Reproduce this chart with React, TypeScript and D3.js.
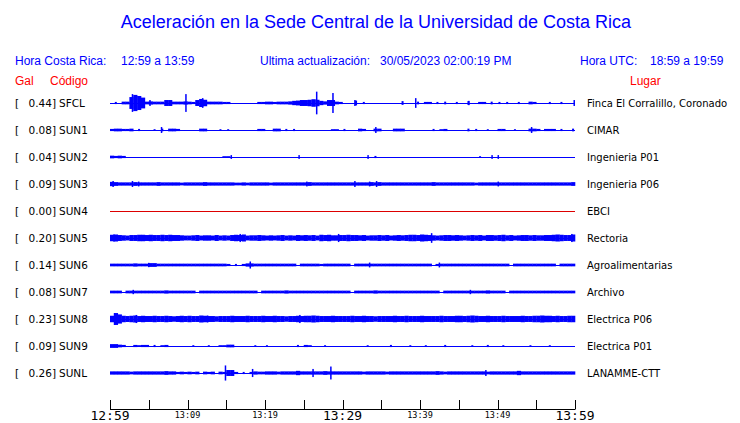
import React, { useEffect } from "react";
import * as d3 from "d3";

const W = 740;
const H = 423;

const title = "Aceleración en la Sede Central de la Universidad de Costa Rica";
const codes = ["SFCL", "SUN1", "SUN2", "SUN3", "SUN4", "SUN5", "SUN6", "SUN7", "SUN8", "SUN9", "SUNL"];
const peaks = [0.44, 0.08, 0.04, 0.09, 0.0, 0.2, 0.14, 0.08, 0.23, 0.09, 0.26];
const places = [
  "Finca El Corralillo, Coronado",
  "CIMAR",
  "Ingenieria P01",
  "Ingenieria P06",
  "EBCI",
  "Rectoria",
  "Agroalimentarias",
  "Archivo",
  "Electrica P06",
  "Electrica P01",
  "LANAMME-CTT",
];

// Envelope half-amplitude per half-minute bin, hundredths of Gal, base-36 digits
const envelopes = [
  "04055muqk5 6555bb5556 54bfc55554 4000000044 554555689b bcec86bb54 0009040000 0000070005 0440405004 0070044050 4040040054 0004004000",
  "4554450400 0305055400 0005500030 3000000044 0055040400 0000000330 4000540055 0005550000 0004034000 0050400300 4400300055 4044404005",
  "5454000000 0000000000 0000000003 3000000000 0000000000 0000000000 0000000040 0000000000 0000000000 0000030000 0000000000 0000000000",
  "8766667666 6676666656 6666766666 6655656666 6566666666 6766666666 6666666767 6666666666 6667666666 6666566666 6666666666 6666666667",
  "0000000000 0000000000 0000000000 0000000000 0000000000 0000000000 0000000000 0000000000 0000000000 0000000000 0000000000 0000000000",
  "cdba9bbccb cbbcbcbba9 9ab9aa9b9a 9bcbd9aaba 9a9ab9a9ba bab9cbcaab bcbbab9aab ab9ababccb dcba9abbab a9abab9bba bcab9abbab aabbcdcbbd",
  "5555556555 7755555555 5555555555 4040466555 5555555505 5555455555 5505555555 5555555555 5550455555 5555555555 5550555555 5555505555",
  "5550555555 5555655555 5505555555 5555555505 5555565555 5555555555 5505555565 5555555555 5555505555 5555555655 5505555555 5555555555",
  "cmhcbcdbcb bcbbcbabcb cbbdcbbabb bcbbbcbbbc bbcbbabbcb ccdcbbbcbb bbcbbcbbab bbbcbbcbbb cbbbbcbbbc cbcdcbbcbb bcbbbbcbbc cdccbcbbcc",
  "7754004344 0403400000 0300030033 5500000300 3000000040 4300030000 0000003000 0040000300 0300004000 0003000400 0300000030 0003000000",
  "6666656666 6666766454 5450545054 bb40404655 6665666686 6666676666 6666656666 6566666666 6666765666 6666666566 6666686666 6666666666",
];

// Isolated peaks: [minute, half-amplitude in hundredths of Gal]
const spikes: number[][][] = [
  [[2.9, 33], [5.16, 11], [9.8, 33], [11.96, 18], [26.67, 42], [28.77, 37], [31.6, 11], [39.45, 18], [46.3, 8], [59.9, 11]],
  [[6.65, 11], [34.3, 11], [54.4, 11]],
  [[15.65, 7], [24.4, 7], [33.3, 7], [49.3, 7], [50.1, 7]],
  [[0.4, 11], [2.9, 11], [3.7, 9], [25.4, 9], [31.6, 11], [33.5, 9], [34.4, 11], [50.1, 9]],
  [],
  [[0.5, 13], [16.8, 15], [29.5, 15], [41.5, 18], [59.6, 15]],
  [[18.1, 13], [5.0, 8], [33.5, 9], [42.5, 9]],
  [[3.0, 8], [46.5, 8]],
  [[0.6, 22], [3.4, 15], [12.6, 13], [24.5, 15]],
  [],
  [[14.9, 28], [18.4, 15], [26.2, 15], [28.5, 24], [48.5, 11]],
];

const tickMinutes = [0, 5, 10, 15, 20, 25, 30, 35, 40, 45, 50, 55, 60];
const labelMinutes = [0, 10, 20, 30, 40, 50, 60];
const tickLabels = ["12:59", "13:09", "13:19", "13:29", "13:39", "13:49", "13:59"];
const majorLabels = ["12:59", "13:29", "13:59"];

const BLUE = "#0000ff";
const RED = "#ff0000";
const BIN = 0.5;

export default function App() {
  useEffect(() => {
    document.body.style.margin = "0";
  }, []);

  const x = d3.scaleLinear().domain([0, 60]).range([110, 575]);
  const rowY = d3.scalePoint<string>().domain(codes).range([103, 373]);
  const axisY = 409;

  const traces = codes.map((code, r) => {
    const cy = rowY(code)!;
    const y = d3.scaleLinear().domain([-0.5, 0.5]).range([cy + 13.5, cy - 13.5]);
    const vals = envelopes[r].replace(/ /g, "").split("").map((c) => parseInt(c, 36) / 100);
    const color = peaks[r] === 0 ? "#dd0000" : BLUE;
    const rects = vals.map((v, i) => {
      if (v <= 0) return null;
      const x0 = x(i * BIN);
      const x1 = x((i + 1) * BIN);
      const isolated = (vals[i - 1] || 0) === 0 && (vals[i + 1] || 0) === 0;
      const cx = (x0 + x1) / 2;
      const left = isolated ? cx - 1 : x0;
      const w = isolated ? 2 : x1 - x0 + 0.3;
      return <rect key={i} x={left} y={y(v)} width={w} height={y(-v) - y(v)} fill={color} />;
    });
    const sp = spikes[r].map(([t, a], k) => (
      <rect key={"s" + k} x={x(t) - 0.75} y={y(a / 100)} width={1.5} height={y(-a / 100) - y(a / 100)} fill={color} />
    ));
    return (
      <g key={code}>
        <line x1={x(0)} x2={x(60)} y1={Math.round(cy) + 0.5} y2={Math.round(cy) + 0.5} stroke={color} strokeWidth={1} />
        {rects}
        {sp}
        <text x={15} y={cy + 4} fontFamily="DejaVu Sans" fontSize={10.5} fill="#000">[</text>
        <text x={56} y={cy + 4} fontFamily="DejaVu Sans" fontSize={10.5} fill="#000" textAnchor="end">
          {peaks[r].toFixed(2) + "]"}
        </text>
        <text x={59} y={cy + 4} fontFamily="DejaVu Sans" fontSize={10.5} fill="#000">{code}</text>
        <text x={587} y={cy + 4} fontFamily="DejaVu Sans" fontSize={10} fill="#000">{places[r]}</text>
      </g>
    );
  });

  return (
    <svg width={W} height={H} style={{ position: "absolute", left: 0, top: 0, display: "block", background: "#fff" }}>
      <rect x={0} y={0} width={W} height={H} fill="#fff" />
      <text x={376} y={28} textAnchor="middle" fontFamily="Liberation Sans" fontSize={18} fill={BLUE}>
        {title}
      </text>
      <g fontFamily="Liberation Sans" fontSize={12} fill={BLUE}>
        <text x={15} y={65}>Hora Costa Rica:</text>
        <text x={121} y={65}>12:59 a 13:59</text>
        <text x={260} y={65}>Ultima actualización:</text>
        <text x={380} y={65}>30/05/2023 02:00:19 PM</text>
        <text x={580} y={65}>Hora UTC:</text>
        <text x={650} y={65}>18:59 a 19:59</text>
      </g>
      <g fontFamily="Liberation Sans" fontSize={12} fill={RED}>
        <text x={15} y={85}>Gal</text>
        <text x={50} y={85}>Código</text>
        <text x={630} y={85}>Lugar</text>
      </g>
      {traces}
      <g>
        <line x1={x(0)} x2={x(60)} y1={axisY + 0.5} y2={axisY + 0.5} stroke="#000" />
        {tickMinutes.map((m) => (
          <line key={m} x1={Math.round(x(m)) + 0.5} x2={Math.round(x(m)) + 0.5} y1={axisY - 9} y2={axisY + 0.5} stroke="#000" />
        ))}
        {labelMinutes.map((m, i) => {
          const lab = tickLabels[i];
          const major = majorLabels.includes(lab);
          return (
            <text
              key={m}
              x={x(m)}
              y={major ? 420 : 418}
              textAnchor="middle"
              fontFamily="DejaVu Sans Mono"
              fontSize={major ? 13 : 8.5}
              fill="#000"
            >
              {lab}
            </text>
          );
        })}
      </g>
    </svg>
  );
}
